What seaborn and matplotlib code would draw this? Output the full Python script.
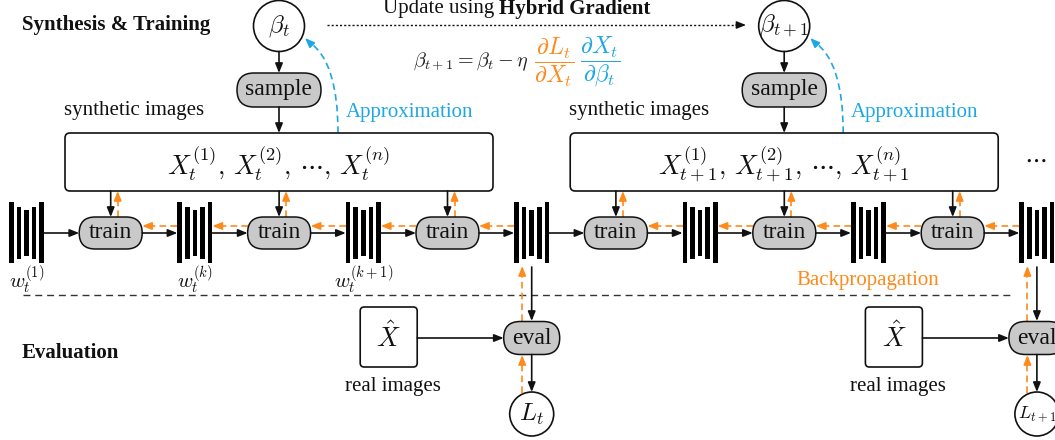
import numpy as np
import matplotlib
matplotlib.use("Agg")
import matplotlib.pyplot as plt
from matplotlib.patches import Circle, FancyBboxPatch, Rectangle, PathPatch
from matplotlib.path import Path
import seaborn as sns

# diagram content
beta_labels = [r"$\beta_t$", r"$\beta_{t+1}$"]
loss_labels = [r"$L_t$", r"$L_{t+1}$"]
sample_sets = [r"$X_t^{(1)},\, X_t^{(2)},\, \cdots,\, X_t^{(n)}$",
               r"$X_{t+1}^{(1)},\, X_{t+1}^{(2)},\, \cdots,\, X_{t+1}^{(n)}$"]
weight_labels = [r"$w_t^{(1)}$", r"$w_t^{(k)}$", r"$w_t^{(k+1)}$"]
layer_heights = [1.0, 0.84, 0.75, 0.84, 1.0]   # relative bar heights of a weight stack
section_titles = ["Synthesis & Training", "Evaluation"]
update_rule = [r"$\beta_{t+1} = \beta_t - \eta$",
               r"$\dfrac{\partial L_t}{\partial X_t}$",
               r"$\dfrac{\partial X_t}{\partial \beta_t}$"]
n_iters = 2
steps_per_iter = 3

ORANGE = "#FF8A1C"
CYAN = "#1DA8E4"
GREY = "#C9C9C9"
INK = "#111111"

sns.set_theme(style="white")
plt.rcParams["font.family"] = ["Liberation Serif", "DejaVu Serif"]
plt.rcParams["mathtext.fontset"] = "cm"

fig = plt.figure(figsize=(10.55, 4.4), dpi=100)
ax = fig.add_axes([0, 0, 1, 1])
ax.set_xlim(0, 1055)
ax.set_ylim(440, 0)
ax.axis("off")

HEAD = dict(arrowstyle="-|>,head_length=0.4,head_width=0.16", mutation_scale=14,
            shrinkA=0, shrinkB=0)


def arrow(x0, y0, x1, y1, color=INK, dashed=False, lw=1.2):
    if dashed:
        d = np.array([x1 - x0, y1 - y0], float)
        u = d / np.hypot(*d)
        hx, hy = x1 - u[0] * 9, y1 - u[1] * 9
        ax.plot([x0, hx], [y0, hy], color=color, lw=lw, ls=(0, (4, 2.5)))
        ax.annotate("", xy=(x1, y1), xytext=(hx, hy),
                    arrowprops=dict(color=color, lw=lw, **HEAD))
    else:
        ax.annotate("", xy=(x1, y1), xytext=(x0, y0),
                    arrowprops=dict(color=color, lw=lw, **HEAD))


def pill(cx, cy, w, h, label):
    ax.add_patch(FancyBboxPatch((cx - w / 2, cy - h / 2), w, h,
                                boxstyle=f"round,pad=0,rounding_size={h / 2}",
                                fc=GREY, ec=INK, lw=1.1, zorder=3))
    ax.text(cx, cy, label, ha="center", va="center", fontsize=17, color=INK, zorder=4)


def node(cx, cy, r, label, size=18):
    ax.add_patch(Circle((cx, cy), r, fc="white", ec=INK, lw=1.2, zorder=3))
    ax.text(cx, cy, label, ha="center", va="center", fontsize=size, color=INK, zorder=4)


# layout
net_x0, step, row_y = 26.5, 168.4, 233
iter_dx = steps_per_iter * step
n_nets = n_iters * steps_per_iter + 1
net_x = [net_x0 + i * step for i in range(n_nets)]
train_x = [x + step / 2 for x in net_x[:-1]]

# separator between the two stages
ax.plot([23, 1010], [295, 295], color="#333333", lw=1, ls=(0, (5, 3.5)), zorder=1)
ax.text(22, 25, section_titles[0], ha="left", va="center", fontsize=15,
        fontweight="bold", color=INK)
ax.text(22, 353, section_titles[1], ha="left", va="center", fontsize=15,
        fontweight="bold", color=INK)

# weight stacks
for cx in net_x:
    for j, h in enumerate(layer_heights):
        hh = 61 * h
        ax.add_patch(Rectangle((cx + (j - 2) * 7.6 - 2.3, row_y - hh / 2), 4.6, hh,
                               fc="black", ec="none", zorder=3))
for cx, lab in zip(net_x, weight_labels):
    ax.text(cx, 280, lab, ha="center", va="center", fontsize=15, color=INK)

# training steps
for i, tx in enumerate(train_x):
    pill(tx, row_y, 63, 32, "train")
    arrow(net_x[i] + 17.5, row_y, tx - 31.5, row_y)
    arrow(tx + 31.5, row_y, net_x[i + 1] - 17.5, row_y)
    arrow(net_x[i + 1] - 17.5, row_y - 7, tx + 31.5, row_y - 7, ORANGE, True)
    if i % steps_per_iter != 0:
        arrow(tx - 31.5, row_y - 7, net_x[i] + 17.5, row_y - 7, ORANGE, True)
    arrow(tx, 191, tx, 217)
    arrow(tx + 7, 217, tx + 7, 191, ORANGE, True)

ax.text(868, 281, "Backpropagation", ha="center", va="center", fontsize=15, color=ORANGE)

for k in range(n_iters):
    ox = k * iter_dx
    bx = 279 + ox
    node(bx, 26, 25.5, beta_labels[k])
    arrow(bx, 51.5, bx, 73)
    pill(bx, 90, 84, 34, "sample")
    arrow(bx, 107, bx, 133)
    ax.add_patch(FancyBboxPatch((65 + ox, 133), 428, 58,
                                boxstyle="round,pad=0,rounding_size=5",
                                fc="white", ec=INK, lw=1.2, zorder=2))
    ax.text(bx, 164, sample_sets[k], ha="center", va="center", fontsize=19, color=INK, zorder=4)
    ax.text(134 + ox, 110, "synthetic images", ha="center", va="center", fontsize=15, color=INK)

    # approximation of dX/dbeta
    p0, c0, p1 = (bx + 59, 133), (bx + 59, 62), (bx + 26, 38)
    ax.add_patch(PathPatch(Path([p0, c0, (p1[0] + 5, p1[1] + 4.5)],
                                [Path.MOVETO, Path.CURVE3, Path.CURVE3]),
                           fc="none", ec=CYAN, lw=1.2, ls=(0, (4, 2.5))))
    ax.annotate("", xy=p1, xytext=(p1[0] + 6, p1[1] + 6),
                arrowprops=dict(color=CYAN, lw=1.2, **HEAD))
    ax.text(bx + 67, 113, "Approximation", ha="left", va="center", fontsize=15, color=CYAN)

    # evaluation
    ex = net_x[(k + 1) * steps_per_iter]
    arrow(ex, 267, ex, 321)
    arrow(ex - 9.5, 321, ex - 9.5, 266, ORANGE, True)
    pill(ex, 338, 56, 33, "eval")
    ax.add_patch(FancyBboxPatch((ex - 171.5, 307), 57, 60,
                                boxstyle="round,pad=0,rounding_size=4",
                                fc="white", ec=INK, lw=1.2, zorder=2))
    ax.text(ex - 143, 337, r"$\hat{X}$", ha="center", va="center", fontsize=19, color=INK)
    ax.text(ex - 139, 386, "real images", ha="center", va="center", fontsize=15, color=INK)
    arrow(ex - 114.5, 338, ex - 28, 338)
    node(ex, 414, 22, loss_labels[k], size=18 if k == 0 else 13)
    arrow(ex, 354.5, ex, 392)
    arrow(ex - 9.5, 393, ex - 9.5, 355, ORANGE, True)

ax.text(1035, 160, r"$\cdots$", ha="center", va="center", fontsize=18, color=INK)

# hybrid-gradient update
ax.plot([327, 736], [25, 25], color=INK, lw=1, ls=(0, (1.5, 1.5)))
ax.annotate("", xy=(746, 25), xytext=(736, 25), arrowprops=dict(color=INK, lw=1, **HEAD))
ax.text(494, 9, "Update using", ha="right", va="center", fontsize=15, color=INK)
ax.text(499, 9, "Hybrid Gradient", ha="left", va="center", fontsize=15,
        fontweight="bold", color=INK)
ax.text(529, 62, update_rule[0], ha="right", va="center", fontsize=14.5, color="#222222")
ax.text(554, 62, update_rule[1], ha="center", va="center", fontsize=17, color=ORANGE)
ax.text(600, 62, update_rule[2], ha="center", va="center", fontsize=17, color=CYAN)

fig.savefig("out.png", dpi=100)
